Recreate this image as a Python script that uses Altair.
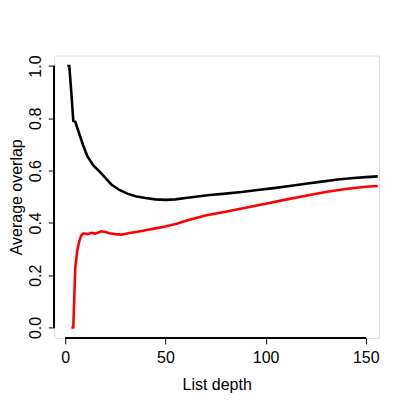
import altair as alt
import pandas as pd

# Black series (upper curve)
black_depth = [1, 2, 3, 4, 5, 7, 9, 11, 14, 17, 20, 23, 27, 31, 35, 40, 45, 50, 55, 60,
               66, 72, 80, 88, 96, 104, 112, 120, 128, 136, 144, 150, 156]
black_value = [1.0, 1.0, 0.9, 0.79, 0.787, 0.74, 0.695, 0.655, 0.62, 0.597, 0.572, 0.547,
               0.526, 0.512, 0.502, 0.495, 0.490, 0.488, 0.490, 0.495, 0.501, 0.507, 0.512,
               0.518, 0.526, 0.533, 0.541, 0.550, 0.558, 0.566, 0.572, 0.575, 0.578]

# Red series (lower curve)
red_depth = [3, 4, 5, 6, 7, 8, 9, 11, 13, 15, 18, 20, 22, 25, 28, 32, 36, 40, 45, 50, 56,
             62, 70, 80, 90, 100, 110, 120, 130, 140, 150, 156]
red_value = [0.0, 0.0, 0.23, 0.295, 0.33, 0.352, 0.36, 0.357, 0.362, 0.359, 0.368, 0.365,
             0.36, 0.357, 0.355, 0.361, 0.366, 0.372, 0.379, 0.386, 0.398, 0.412, 0.428,
             0.443, 0.458, 0.473, 0.489, 0.504, 0.518, 0.530, 0.538, 0.541]

x_ticks = [0, 50, 100, 150]
y_ticks = [0.0, 0.2, 0.4, 0.6, 0.8, 1.0]

W = 325
H = 282.5
FONT = "Liberation Sans"

df = pd.concat([
    pd.DataFrame({"depth": black_depth, "overlap": black_value, "series": "black"}),
    pd.DataFrame({"depth": red_depth, "overlap": red_value, "series": "red"}),
])

xscale = alt.Scale(domain=[-5.5, 156.6], nice=False, zero=False)
yscale = alt.Scale(domain=[-0.04, 1.04], nice=False, zero=False)

xaxis = alt.Axis(values=x_ticks, domain=False, grid=False, tickSize=6, tickColor="black",
                 labelFont=FONT, labelFontSize=16, labelColor="black",
                 labelBaseline="alphabetic", labelPadding=19, labelFlush=False,
                 title="List depth", titleFont=FONT, titleFontSize=16, titleFontWeight="normal",
                 titleColor="black", titleBaseline="alphabetic", titleAlign="center",
                 titleX=W / 2, titleY=52)
yaxis = alt.Axis(values=y_ticks, format=".1f", domain=False, grid=False, tickSize=6,
                 tickColor="black", labelFont=FONT, labelFontSize=16, labelColor="black",
                 labelAngle=270, labelAlign="center", labelBaseline="alphabetic",
                 labelPadding=7.6, labelFlush=False,
                 title="Average overlap", titleFont=FONT, titleFontSize=16,
                 titleFontWeight="normal", titleColor="black", titleAngle=270,
                 titleBaseline="alphabetic", titleAlign="center", titleX=-32.5, titleY=H / 2)

lines = alt.Chart(df).mark_line(strokeWidth=2.6, clip=True).encode(
    x=alt.X("depth:Q", scale=xscale, axis=xaxis),
    y=alt.Y("overlap:Q", scale=yscale, axis=yaxis),
    color=alt.Color("series:N", scale=alt.Scale(domain=["black", "red"],
                                                range=["#000000", "#ff0000"]), legend=None),
    detail="series:N",
)

xline = alt.Chart(df).mark_rule(color="black", strokeWidth=1).encode(
    x=alt.datum(x_ticks[0]), x2=alt.datum(x_ticks[-1]), y=alt.value(H)
)
yline = alt.Chart(df).mark_rule(color="black", strokeWidth=1).encode(
    y=alt.datum(y_ticks[0]), y2=alt.datum(y_ticks[-1]), x=alt.value(0)
)

chart = alt.layer(lines, xline, yline).properties(
    width=W, height=H,
    autosize=alt.AutoSizeParams(type="none"),
    padding={"left": 46.3, "top": 47.5, "right": 20, "bottom": 60},
).configure_view(stroke=None).configure(background="white")

chart.save("out.html", embed_options={"renderer": "svg", "actions": False})
